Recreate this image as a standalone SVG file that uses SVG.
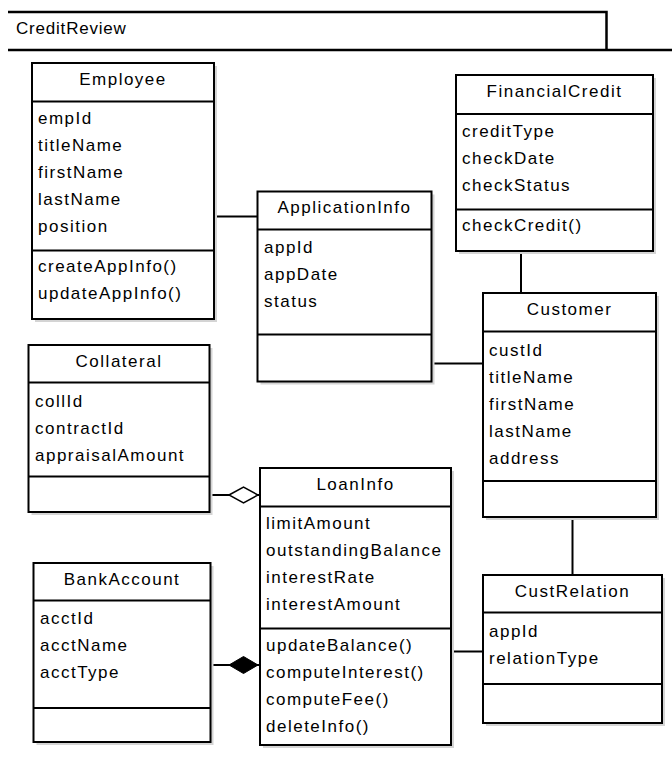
<svg xmlns="http://www.w3.org/2000/svg" width="672" height="771" viewBox="0 0 672 771">
  <style>
    text { font-family: "Liberation Sans", Arial, sans-serif; font-size: 17px; letter-spacing: 1.5px; fill: #000; }
    .title { text-anchor: middle; }
    .box { fill: #fff; stroke: #000; stroke-width: 2; }
    .shadow { fill: #d4d4d4; }
    .sep { stroke: #000; stroke-width: 2; fill: none; }
    .conn { stroke: #000; stroke-width: 2; fill: none; }
    .frame { stroke: #000; stroke-width: 2.5; fill: none; }
  </style>
  <defs>
    <marker id="aggregation" viewBox="0 0 31 18" refX="31" refY="9" markerWidth="31" markerHeight="18" markerUnits="userSpaceOnUse" orient="auto">
      <path d="M1,9 L15.5,1 L30,9 L15.5,17 Z" fill="#fff" stroke="#000" stroke-width="1.5"/>
    </marker>
    <marker id="composition" viewBox="0 0 31 18" refX="31" refY="9" markerWidth="31" markerHeight="18" markerUnits="userSpaceOnUse" orient="auto">
      <path d="M1,9 L15.5,0.5 L30,9 L15.5,17.5 Z" fill="#000" stroke="#000" stroke-width="1"/>
    </marker>
  </defs>

  <!-- package frame -->
  <g id="package-CreditReview">
    <path class="frame" d="M8,12 H606.5 V50"/>
    <path class="frame" d="M8,50 H672"/>
    <text x="16" y="34" style="letter-spacing:0.8px">CreditReview</text>
  </g>

  <!-- associations -->
  <g id="connectors">
    <path class="conn" d="M213,216.5 H257.5"/>
    <path class="conn" d="M521,251 V293"/>
    <path class="conn" d="M431.5,363.5 H483"/>
    <path class="conn" d="M206,495 H259" marker-end="url(#aggregation)"/>
    <path class="conn" d="M210,665 H259" marker-end="url(#composition)"/>
    <path class="conn" d="M451,651.5 H483"/>
    <path class="conn" d="M572.5,517 V575"/>
  </g>

  <g id="Employee">
    <rect class="shadow" x="35" y="66" width="182" height="256"/>
    <rect class="box" x="32" y="63" width="182" height="256"/>
    <path class="sep" d="M32,101.5 H214 M32,250.5 H214"/>
    <text class="title" x="123" y="85">Employee</text>
    <text x="38" y="124">empId</text>
    <text x="38" y="151">titleName</text>
    <text x="38" y="178">firstName</text>
    <text x="38" y="205">lastName</text>
    <text x="38" y="232">position</text>
    <text x="38" y="272">createAppInfo()</text>
    <text x="38" y="299">updateAppInfo()</text>
  </g>

  <g id="ApplicationInfo">
    <rect class="shadow" x="260.5" y="194.5" width="174" height="190"/>
    <rect class="box" x="257.5" y="191.5" width="174" height="190"/>
    <path class="sep" d="M257.5,229.5 H431.5 M257.5,334.5 H431.5"/>
    <text class="title" x="344.5" y="213">ApplicationInfo</text>
    <text x="264" y="253">appId</text>
    <text x="264" y="280">appDate</text>
    <text x="264" y="307">status</text>
  </g>

  <g id="FinancialCredit">
    <rect class="shadow" x="459" y="78" width="197" height="176"/>
    <rect class="box" x="456" y="75" width="197" height="176"/>
    <path class="sep" d="M456,114 H653 M456,209.5 H653"/>
    <text class="title" x="554.5" y="97">FinancialCredit</text>
    <text x="462" y="137">creditType</text>
    <text x="462" y="164">checkDate</text>
    <text x="462" y="191">checkStatus</text>
    <text x="462" y="231">checkCredit()</text>
  </g>

  <g id="Customer">
    <rect class="shadow" x="486" y="296" width="173" height="224"/>
    <rect class="box" x="483" y="293" width="173" height="224"/>
    <path class="sep" d="M483,331.5 H656 M483,481 H656"/>
    <text class="title" x="569.5" y="315">Customer</text>
    <text x="489" y="356">custId</text>
    <text x="489" y="383">titleName</text>
    <text x="489" y="410">firstName</text>
    <text x="489" y="437">lastName</text>
    <text x="489" y="464">address</text>
  </g>

  <g id="Collateral">
    <rect class="shadow" x="31.5" y="348" width="181" height="167"/>
    <rect class="box" x="28.5" y="345" width="181" height="167"/>
    <path class="sep" d="M28.5,382.5 H209.5 M28.5,476.5 H209.5"/>
    <text class="title" x="119" y="367">Collateral</text>
    <text x="35" y="407">collId</text>
    <text x="35" y="434">contractId</text>
    <text x="35" y="461">appraisalAmount</text>
  </g>

  <g id="LoanInfo">
    <rect class="shadow" x="263" y="471" width="191" height="277"/>
    <rect class="box" x="260" y="468" width="191" height="277"/>
    <path class="sep" d="M260,506.5 H451 M260,628.5 H451"/>
    <text class="title" x="355.5" y="490">LoanInfo</text>
    <text x="266" y="529">limitAmount</text>
    <text x="266" y="556">outstandingBalance</text>
    <text x="266" y="583">interestRate</text>
    <text x="266" y="610">interestAmount</text>
    <text x="266" y="651">updateBalance()</text>
    <text x="266" y="678">computeInterest()</text>
    <text x="266" y="705">computeFee()</text>
    <text x="266" y="732">deleteInfo()</text>
  </g>

  <g id="BankAccount">
    <rect class="shadow" x="36.5" y="566" width="177" height="179"/>
    <rect class="box" x="33.5" y="563" width="177" height="179"/>
    <path class="sep" d="M33.5,600.5 H210.5 M33.5,708 H210.5"/>
    <text class="title" x="122" y="585">BankAccount</text>
    <text x="40" y="624">acctId</text>
    <text x="40" y="651">acctName</text>
    <text x="40" y="678">acctType</text>
  </g>

  <g id="CustRelation">
    <rect class="shadow" x="486" y="578" width="179" height="148"/>
    <rect class="box" x="483" y="575" width="179" height="148"/>
    <path class="sep" d="M483,612.5 H662 M483,684 H662"/>
    <text class="title" x="572.5" y="597">CustRelation</text>
    <text x="489" y="637">appId</text>
    <text x="489" y="664">relationType</text>
  </g>
</svg>
